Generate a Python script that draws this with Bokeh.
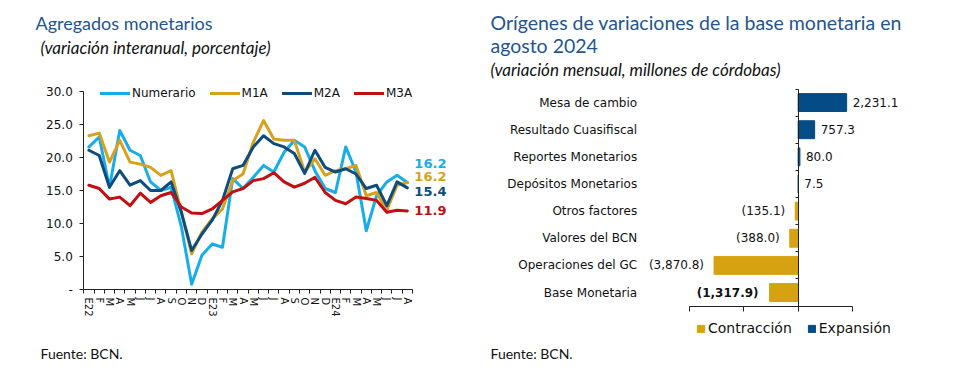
from bokeh.plotting import figure
from bokeh.models import Range1d, FixedTicker, Label, Legend, LegendItem, ColumnDataSource
from bokeh.layouts import row
from bokeh.embed import file_html
from bokeh.resources import INLINE
from bokeh.core.properties import value

# ---------------- data: left chart ----------------
months = ["E22", "F", "M", "A", "M", "J", "J", "A", "S", "O", "N", "D",
          "E23", "F", "M", "A", "M", "J", "J", "A", "S", "O", "N", "D",
          "E24", "F", "M", "A", "M", "J", "J", "A"]
numerario = [21.6, 23.1, 15.5, 24.1, 21.1, 20.3, 16.3, 15.0, 15.5, 9.5,
             0.8, 5.2, 6.9, 6.4, 16.8, 15.3, 17.0, 18.8, 17.8, 20.8,
             22.6, 21.6, 18.0, 15.3, 14.7, 21.6, 17.8, 8.9, 14.2, 16.3,
             17.3, 16.2]
m1a = [23.3, 23.7, 19.3, 22.6, 19.3, 19.0, 18.5, 17.3, 18.0, 11.7,
       5.4, 8.7, 10.7, 12.2, 16.5, 17.5, 22.3, 25.6, 22.8, 22.6,
       22.6, 17.8, 19.8, 17.3, 18.0, 18.3, 18.8, 14.2, 14.7, 12.0,
       15.8, 16.2]
m2a = [21.1, 20.3, 15.5, 18.0, 15.8, 16.5, 15.0, 15.0, 16.3, 11.7,
       5.9, 8.4, 10.5, 13.5, 18.3, 18.8, 21.6, 23.3, 22.1, 21.6,
       20.6, 17.6, 21.1, 18.5, 17.8, 18.3, 17.5, 15.3, 15.8, 12.7,
       16.3, 15.4]
m3a = [15.8, 15.3, 13.7, 14.0, 12.7, 14.6, 13.2, 14.2, 14.7, 12.5,
       11.6, 11.5, 12.2, 13.5, 14.8, 15.3, 16.5, 16.8, 17.7, 16.3,
       15.5, 16.1, 17.0, 14.7, 13.5, 13.0, 14.0, 13.8, 13.5, 11.7,
       12.0, 11.9]
series_names = ["Numerario", "M1A", "M2A", "M3A"]
y_ticks = [0, 5, 10, 15, 20, 25, 30]

# ---------------- data: right chart ----------------
categories = ["Mesa de cambio", "Resultado Cuasifiscal", "Reportes Monetarios",
              "Depósitos Monetarios", "Otros factores", "Valores del BCN",
              "Operaciones del GC", "Base Monetaria"]
variaciones = [2231.1, 757.3, 80.0, 7.5, -135.1, -388.0, -3870.8, -1317.9]
x_ticks_right = [-5000, -2500, 0, 2500]

# ---------------- styles ----------------
TITLE_COLOR = "#1F5590"
TXT = "#111111"
AXC = "#222222"
C_NUM = "#16AEE8"
C_M1A = "#D6A21C"
C_M2A = "#0E4B7F"
C_M3A = "#C30F12"
C_GOLD = "#D6A212"
C_BLUE = "#044C86"
AX_FONT = "DejaVu Sans"
T_FONT = "Lato"

W, H = 480, 383

# =============== LEFT FIGURE ===============
# frame covers the whole figure; axes are pinned with fixed_location
n = len(months)
xs = list(range(n))
px_x = (412.0 - 83.3) / n          # pixels per month
px_y = (289.0 - 91.0) / 30.0       # pixels per percentage point
x0 = -0.5 - 83.3 / px_x
x1 = n - 0.5 + (W - 412.0) / px_x
y0 = -(H - 289.0) / px_y
y1 = 30 + 91.0 / px_y

p1 = figure(width=W, height=H, output_backend="svg", toolbar_location=None,
            x_range=Range1d(x0, x1), y_range=Range1d(y0, y1), min_border=0)
p1.outline_line_color = None
p1.grid.visible = False

renderers = []
for data, col in zip([numerario, m1a, m2a, m3a], [C_NUM, C_M1A, C_M2A, C_M3A]):
    r = p1.line(xs, data, line_color=col, line_width=3, line_join="round", line_cap="round")
    renderers.append(r)

xa = p1.xaxis[0]
xa.fixed_location = 0
xa.bounds = (-0.5, n - 0.5)
xa.ticker = FixedTicker(ticks=xs, minor_ticks=[i - 0.5 for i in range(n + 1)])
xa.major_label_overrides = {i: m for i, m in enumerate(months)}
xa.major_label_orientation = "vertical"
xa.major_tick_out = 0
xa.major_tick_in = 0
xa.minor_tick_out = 4
xa.minor_tick_in = 0
xa.minor_tick_line_color = AXC
xa.axis_line_color = AXC
xa.major_label_text_font = AX_FONT
xa.major_label_text_font_size = "10px"
xa.major_label_text_color = TXT
xa.major_label_standoff = 4

ya = p1.yaxis[0]
ya.fixed_location = -0.5
ya.bounds = (0, 30)
ya.ticker = FixedTicker(ticks=y_ticks)
ya.major_label_overrides = {t: ("-" if t == 0 else f"{t:.1f}") for t in y_ticks}
ya.major_tick_out = 4
ya.major_tick_in = 0
ya.minor_tick_line_color = None
ya.axis_line_color = AXC
ya.major_tick_line_color = AXC
ya.major_label_text_font = AX_FONT
ya.major_label_text_font_size = "12px"
ya.major_label_text_color = TXT
ya.major_label_standoff = 7

leg1 = Legend(items=[LegendItem(label=nm, renderers=[r]) for nm, r in zip(series_names, renderers)],
              location=(100, 283), orientation="horizontal",
              background_fill_alpha=0, border_line_color=None, padding=0, margin=0,
              spacing=14, glyph_width=30, glyph_height=14, label_standoff=2,
              label_text_font=AX_FONT, label_text_font_size="12px", label_text_color=TXT)
p1.add_layout(leg1)

end_offsets = [19, 6, -4, 0]
for data, col, off in zip([numerario, m1a, m2a, m3a], [C_NUM, C_M1A, C_M2A, C_M3A], end_offsets):
    p1.add_layout(Label(x=n - 1, y=data[-1], x_offset=7, y_offset=off, text=f"{data[-1]:.1f}",
                        text_color=col, text_font=AX_FONT, text_font_size="13px",
                        text_font_style="bold", text_align="left", text_baseline="middle"))

p1.add_layout(Label(x=35, y=H - 22, x_units="screen", y_units="screen", text="Agregados monetarios",
                    text_color=TITLE_COLOR, text_font=T_FONT, text_font_size="18px",
                    text_align="left", text_baseline="middle"))
p1.add_layout(Label(x=40, y=H - 47, x_units="screen", y_units="screen",
                    text="(variación interanual, porcentaje)",
                    text_color=TXT, text_font=T_FONT, text_font_size="17px", text_font_style="italic",
                    text_align="left", text_baseline="middle"))
p1.add_layout(Label(x=40, y=H - 353, x_units="screen", y_units="screen", text="Fuente: BCN.",
                    text_color=TXT, text_font=T_FONT, text_font_size="14px",
                    text_align="left", text_baseline="middle"))

# =============== RIGHT FIGURE ===============
m = len(categories)
ys = list(range(m))
OX = 480.0
fx_l, fx_r = 689.0 - OX, 852.0 - OX         # -5000 and 2500 in figure pixels
fy_t, fy_b = 88.5, 305.6                    # top / bottom category boundaries
ppx = (fx_r - fx_l) / (x_ticks_right[-1] - x_ticks_right[0])
ppy = (fy_b - fy_t) / m
rx0 = x_ticks_right[0] - fx_l / ppx
rx1 = x_ticks_right[-1] + (W - fx_r) / ppx
ry_bottom = m - 0.5 + (H - fy_b) / ppy
ry_top = -0.5 - fy_t / ppy

p2 = figure(width=W, height=H, output_backend="svg", toolbar_location=None,
            x_range=Range1d(rx0, rx1), y_range=Range1d(ry_bottom, ry_top), min_border=0)
p2.outline_line_color = None
p2.grid.visible = False

pos = {"y": [y for y, v in zip(ys, variaciones) if v >= 0],
       "v": [v for v in variaciones if v >= 0]}
neg = {"y": [y for y, v in zip(ys, variaciones) if v < 0],
       "v": [v for v in variaciones if v < 0]}
r_neg = p2.hbar(y="y", left=0, right="v", height=0.66, source=ColumnDataSource(neg),
                fill_color=C_GOLD, line_color=C_GOLD)
r_pos = p2.hbar(y="y", left=0, right="v", height=0.66, source=ColumnDataSource(pos),
                fill_color=C_BLUE, line_color=C_BLUE)

def fmt(v):
    s = f"{abs(v):,.1f}"
    return s if v >= 0 else f"({s})"

last = m - 1
lab_pos = ColumnDataSource({"x": pos["v"], "y": pos["y"], "t": [fmt(v) for v in pos["v"]]})
lab_neg = ColumnDataSource({"x": [v for y, v in zip(neg["y"], neg["v"]) if y != last],
                            "y": [y for y in neg["y"] if y != last],
                            "t": [fmt(v) for y, v in zip(neg["y"], neg["v"]) if y != last]})
lab_tot = ColumnDataSource({"x": [variaciones[last]], "y": [last], "t": [fmt(variaciones[last])]})
p2.text(x="x", y="y", text="t", source=lab_pos, x_offset=6, text_align="left",
        text_baseline="middle", text_font=value(AX_FONT), text_font_size="12px", text_color=TXT)
p2.text(x="x", y="y", text="t", source=lab_neg, x_offset=-10, text_align="right",
        text_baseline="middle", text_font=value(AX_FONT), text_font_size="12px", text_color=TXT)
p2.text(x="x", y="y", text="t", source=lab_tot, x_offset=-11, text_align="right",
        text_baseline="middle", text_font=value(AX_FONT), text_font_size="12px",
        text_font_style="bold", text_color=TXT)

# category axis pinned at zero, labels pushed to the left
ya2 = p2.yaxis[0]
ya2.fixed_location = 0
ya2.bounds = (-0.5, m - 0.5)
ya2.ticker = FixedTicker(ticks=ys, minor_ticks=[i - 0.5 for i in range(m + 1)])
ya2.major_label_overrides = {i: c for i, c in enumerate(categories)}
ya2.axis_line_color = AXC
ya2.major_tick_out = 0
ya2.major_tick_in = 0
ya2.minor_tick_out = 3
ya2.minor_tick_in = 0
ya2.minor_tick_line_color = AXC
ya2.major_label_standoff = 158
ya2.major_label_text_font = AX_FONT
ya2.major_label_text_font_size = "12px"
ya2.major_label_text_color = TXT

xa2 = p2.xaxis[0]
xa2.fixed_location = m - 0.5
xa2.bounds = (x_ticks_right[0], x_ticks_right[-1])
xa2.ticker = FixedTicker(ticks=x_ticks_right)
xa2.major_label_overrides = {t: "" for t in x_ticks_right}
xa2.major_tick_out = 5
xa2.major_tick_in = 0
xa2.minor_tick_line_color = None
xa2.axis_line_color = AXC
xa2.major_tick_line_color = AXC

leg2 = Legend(items=[LegendItem(label="Contracción", renderers=[r_neg]),
                     LegendItem(label="Expansión", renderers=[r_pos])],
              location=(216, 47), orientation="horizontal",
              background_fill_alpha=0, border_line_color=None, padding=0, margin=0,
              spacing=15, glyph_width=9, glyph_height=9, label_standoff=3,
              label_text_font=AX_FONT, label_text_font_size="14px", label_text_color=TXT)
p2.add_layout(leg2)

p2.add_layout(Label(x=10, y=H - 22, x_units="screen", y_units="screen",
                    text="Orígenes de variaciones de la base monetaria en",
                    text_color=TITLE_COLOR, text_font=T_FONT, text_font_size="19.5px",
                    text_align="left", text_baseline="middle"))
p2.add_layout(Label(x=10, y=H - 45, x_units="screen", y_units="screen", text="agosto 2024",
                    text_color=TITLE_COLOR, text_font=T_FONT, text_font_size="19.5px",
                    text_align="left", text_baseline="middle"))
p2.add_layout(Label(x=10, y=H - 69, x_units="screen", y_units="screen",
                    text="(variación mensual, millones de córdobas)",
                    text_color=TXT, text_font=T_FONT, text_font_size="17px", text_font_style="italic",
                    text_align="left", text_baseline="middle"))
p2.add_layout(Label(x=10, y=H - 353, x_units="screen", y_units="screen", text="Fuente: BCN.",
                    text_color=TXT, text_font=T_FONT, text_font_size="14px",
                    text_align="left", text_baseline="middle"))

layout = row(p1, p2)
open("out.html", "w").write(file_html(layout, INLINE))
